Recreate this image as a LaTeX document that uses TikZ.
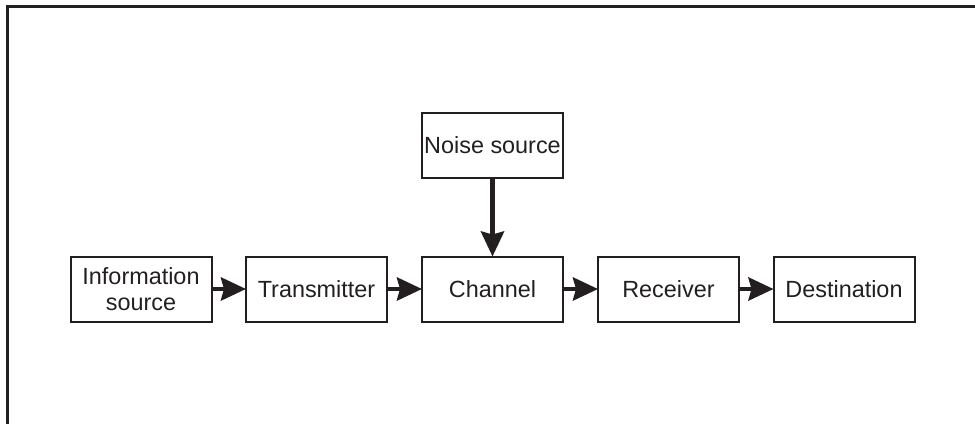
\documentclass[tikz,border=0pt]{standalone}
\usepackage{fontspec}
\setmainfont{Liberation Sans}
\usetikzlibrary{arrows.meta}
\definecolor{ink}{HTML}{231F20}
\tikzset{
  blk/.style={draw=ink, line width=2pt, minimum width=141pt, minimum height=65pt,
    inner sep=0pt, align=center, text=ink, font=\fontsize{23.4pt}{26pt}\selectfont},
  flow/.style={draw=ink, line width=4.5pt,
    -{Stealth[length=25pt, width=23pt, inset=3pt]}, shorten >=-1pt},
  frame/.style={draw=ink, line width=3pt}
}
\begin{document}
\begin{tikzpicture}[x=1pt, y=-1pt]
\useasboundingbox (0,0) rectangle (975,424);
\coordinate (fa) at (7,424);
\coordinate (fb) at (7,6.5);
\coordinate (fc) at (975,6.5);
\draw[frame] (fa) -- (fb) -- (fc);
\node[blk] (info) at (141,289) {Information\\source};
\node[blk] (tx) at (316.5,289) {Transmitter};
\node[blk] (ch) at (492.5,289) {Channel};
\node[blk] (rx) at (668.5,289) {Receiver};
\node[blk] (dst) at (844,289) {Destination};
\node[blk] (noise) at (492.5,145.5) {Noise source};
\draw[flow] (info) -- (tx);
\draw[flow] (tx) -- (ch);
\draw[flow] (ch) -- (rx);
\draw[flow] (rx) -- (dst);
\draw[flow] (noise) -- (ch);
\end{tikzpicture}
\end{document}
